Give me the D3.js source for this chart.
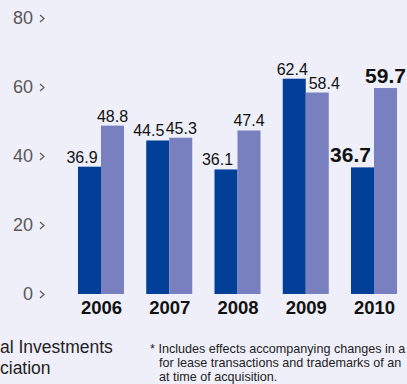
<!DOCTYPE html>
<html>
<head>
<meta charset="utf-8">
<script src="https://cdn.jsdelivr.net/npm/d3@7"></script>
<style>
  html, body { margin: 0; padding: 0; background: #efeff9; overflow: hidden; }
  svg { display: block; font-family: "Liberation Sans", Arial, Helvetica, sans-serif; }
</style>
</head>
<body>
<svg id="chart" width="407" height="384"></svg>
<script>
const years = ['2006', '2007', '2008', '2009', '2010'];
const series = ['a', 'b'];
const valuesA = [36.9, 44.5, 36.1, 62.4, 36.7];
const valuesB = [48.8, 45.3, 47.4, 58.4, 59.7];
const yTicks = [0, 20, 40, 60, 80];
const noteLeft = ['al Investments', 'ciation'];
const noteRight = [
    '* Includes effects accompanying changes in a',
    'for lease transactions and trademarks of an',
    'at time of acquisition.',
];

// label nudges
const nudgeA = [-7.5, -9, -8.5, -2, -12];
const nudgeB = [0, 0.5, 0, 7, 0];

const color = { a: '#013f98', b: '#7880bf' };

const svg = d3.select('#chart');

const x = d3.scaleBand().domain(years).range([67, 408]).paddingInner(0.326).paddingOuter(0.161);
const xs = d3.scaleBand().domain(series).range([0, x.bandwidth()]);
const y = d3.scaleLinear().domain([0, 80]).range([294, 18]);

const data = years.map((yr, i) => ({
    year: yr,
    last: i === years.length - 1,
    vals: [
        { key: 'a', v: valuesA[i], nudge: nudgeA[i] },
        { key: 'b', v: valuesB[i], nudge: nudgeB[i] },
    ],
}));

// y axis
const yAxis = svg
    .append('g')
    .attr('transform', 'translate(33,0)')
    .call(d3.axisLeft(y).tickValues(yTicks).tickSize(0).tickPadding(0));
yAxis.select('.domain').remove();
yAxis
    .selectAll('text')
    .attr('fill', '#585858')
    .style('font-size', '18px')
    .style('font-family', '"Liberation Sans", Arial, sans-serif');
yAxis
    .selectAll('.tick')
    .append('path')
    .attr('d', 'M7,-3.5L11,0L7,3.5')
    .attr('fill', 'none')
    .attr('stroke', '#585858')
    .attr('stroke-width', 1.2);

// bars
const groups = svg
    .selectAll('.grp')
    .data(data)
    .enter()
    .append('g')
    .attr('class', 'grp')
    .attr('transform', (d) => `translate(${x(d.year)},0)`);

groups
    .selectAll('rect')
    .data((d) => d.vals)
    .enter()
    .append('rect')
    .attr('x', (d) => xs(d.key))
    .attr('y', (d) => y(d.v))
    .attr('width', xs.bandwidth())
    .attr('height', (d) => y(0) - y(d.v))
    .attr('fill', (d) => color[d.key]);

groups
    .selectAll('.val')
    .data((d) => d.vals.map((v) => ({ ...v, last: d.last })))
    .enter()
    .append('text')
    .attr('class', 'val')
    .attr('x', (d) => xs(d.key) + xs.bandwidth() / 2 + d.nudge)
    .attr('y', (d) => y(d.v) - (d.last ? 5.5 : 4))
    .attr('text-anchor', 'middle')
    .attr('fill', '#111')
    .style('font-size', (d) => (d.last ? '21px' : '16px'))
    .style('font-weight', (d) => (d.last ? 'bold' : 'normal'))
    .text((d) => d.v.toFixed(1));

// x labels
svg
    .selectAll('.yr')
    .data(years)
    .enter()
    .append('text')
    .attr('class', 'yr')
    .attr('x', (d) => x(d) + x.bandwidth() / 2 + 0.5)
    .attr('y', 314)
    .attr('text-anchor', 'middle')
    .attr('fill', '#111')
    .style('font-size', '18.5px')
    .style('font-weight', 'bold')
    .text((d) => d);

// notes
svg
    .selectAll('.noteL')
    .data(noteLeft)
    .enter()
    .append('text')
    .attr('class', 'noteL')
    .attr('x', 0)
    .attr('y', (d, i) => 353 + i * 21)
    .attr('fill', '#222')
    .style('font-size', '17.5px')
    .text((d) => d);

svg
    .selectAll('.noteR')
    .data(noteRight)
    .enter()
    .append('text')
    .attr('class', 'noteR')
    .attr('x', (d, i) => (i === 0 ? 150 : 159))
    .attr('y', (d, i) => 353 + i * 14)
    .attr('fill', '#222')
    .style('font-size', '12.6px')
    .text((d) => d);
</script>
</body>
</html>
